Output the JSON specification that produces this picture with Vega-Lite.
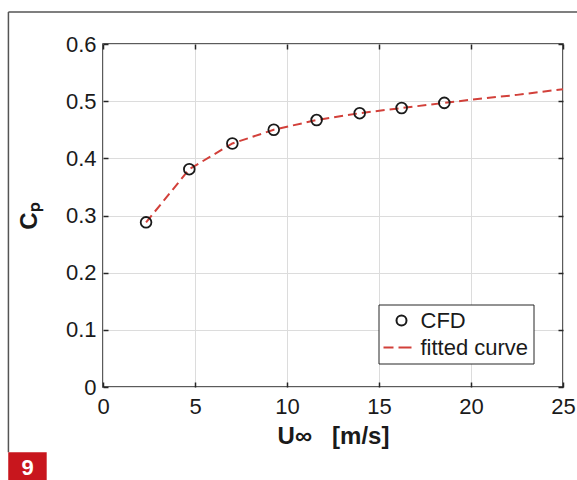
{
  "$schema": "https://vega.github.io/schema/vega-lite/v6.json",
  "width": 460,
  "height": 343,
  "autosize": {"type": "none"},
  "padding": {"left": 103, "top": 44, "right": 14, "bottom": 93},
  "background": "white",
  "config": {
    "font": "Liberation Sans",
    "view": {"stroke": "#262626", "strokeWidth": 1.5},
    "axis": {
      "labelFont": "Liberation Sans",
      "titleFont": "Liberation Sans",
      "labelColor": "#1a1a1a",
      "titleColor": "#1a1a1a",
      "domainColor": "#262626",
      "tickColor": "#262626",
      "gridColor": "#dcdcdc",
      "gridWidth": 1,
      "gridOpacity": 1
    }
  },
  "datasets": {
    "cfd": [
      {"u": 2.34, "cp": 0.288, "series": "CFD"},
      {"u": 4.69, "cp": 0.381, "series": "CFD"},
      {"u": 7.03, "cp": 0.426, "series": "CFD"},
      {"u": 9.28, "cp": 0.450, "series": "CFD"},
      {"u": 11.61, "cp": 0.467, "series": "CFD"},
      {"u": 13.95, "cp": 0.479, "series": "CFD"},
      {"u": 16.23, "cp": 0.488, "series": "CFD"},
      {"u": 18.55, "cp": 0.497, "series": "CFD"}
    ],
    "fit": [
      {"u": 2.34, "cp": 0.288},
      {"u": 4.69, "cp": 0.381},
      {"u": 7.03, "cp": 0.426},
      {"u": 9.28, "cp": 0.450},
      {"u": 11.61, "cp": 0.467},
      {"u": 13.95, "cp": 0.479},
      {"u": 16.23, "cp": 0.488},
      {"u": 18.55, "cp": 0.497},
      {"u": 20, "cp": 0.5025},
      {"u": 22.5, "cp": 0.511},
      {"u": 25, "cp": 0.521}
    ],
    "frame": [
      {"u": -5.14, "u2": 25.8, "cp": 0.656, "cp2": 0.656},
      {"u": -5.14, "u2": -5.14, "cp": 0.656, "cp2": -0.114}
    ],
    "badge": [
      {"u": -5.15, "u2": -3.06, "cp": -0.114, "cp2": -0.165, "label": "9", "um": -4.1, "cpm": -0.141}
    ]
  },
  "resolve": {"axis": {"x": "independent", "y": "independent"}},
  "layer": [
    {
      "data": {"name": "frame"},
      "mark": {"type": "rule", "color": "#555555", "strokeWidth": 1.5},
      "encoding": {
        "x": {"field": "u", "type": "quantitative", "scale": {"domain": [0, 25], "nice": false}, "axis": null},
        "x2": {"field": "u2"},
        "y": {"field": "cp", "type": "quantitative", "scale": {"domain": [0, 0.6], "nice": false}, "axis": null},
        "y2": {"field": "cp2"}
      }
    },
    {
      "data": {"name": "badge"},
      "mark": {"type": "rect", "color": "#c8161d"},
      "encoding": {
        "x": {"field": "u", "type": "quantitative", "scale": {"domain": [0, 25], "nice": false}, "axis": null},
        "x2": {"field": "u2"},
        "y": {"field": "cp", "type": "quantitative", "scale": {"domain": [0, 0.6], "nice": false}, "axis": null},
        "y2": {"field": "cp2"}
      }
    },
    {
      "data": {"name": "badge"},
      "mark": {"type": "text", "color": "white", "fontSize": 22, "fontWeight": "bold", "font": "Liberation Sans", "align": "center", "baseline": "middle"},
      "encoding": {
        "x": {"field": "um", "type": "quantitative", "scale": {"domain": [0, 25], "nice": false}, "axis": null},
        "y": {"field": "cpm", "type": "quantitative", "scale": {"domain": [0, 0.6], "nice": false}, "axis": null},
        "text": {"field": "label"}
      }
    },
    {
      "data": {"name": "fit"},
      "mark": {"type": "line", "color": "#d2403a", "strokeWidth": 2, "strokeDash": [9, 5]},
      "encoding": {
        "x": {"field": "u", "type": "quantitative", "scale": {"domain": [0, 25], "nice": false},
          "axis": {"orient": "top", "values": [0, 5, 10, 15, 20, 25], "labels": false, "domain": false, "grid": false, "ticks": true, "tickSize": -5, "tickWidth": 1.5, "title": null}},
        "y": {"field": "cp", "type": "quantitative", "scale": {"domain": [0, 0.6], "nice": false},
          "axis": {"orient": "right", "values": [0, 0.1, 0.2, 0.3, 0.4, 0.5, 0.6], "labels": false, "domain": false, "grid": false, "ticks": true, "tickSize": -5, "tickWidth": 1.5, "title": null}}
      }
    },
    {
      "data": {"name": "cfd"},
      "mark": {"type": "point", "filled": false, "size": 115, "strokeWidth": 1.8, "opacity": 1},
      "encoding": {
        "x": {"field": "u", "type": "quantitative", "scale": {"domain": [0, 25], "nice": false},
          "axis": {"orient": "bottom", "values": [0, 5, 10, 15, 20, 25], "labelFlush": false, "grid": true, "domain": false, "ticks": true, "tickSize": -5, "tickWidth": 1.5,
            "labelFontSize": 22, "labelPadding": 14, "title": "U∞\u00a0\u00a0\u00a0[m/s]", "titleFontSize": 24, "titleFontWeight": "bold", "titlePadding": 7}},
        "y": {"field": "cp", "type": "quantitative", "scale": {"domain": [0, 0.6], "nice": false},
          "axis": {"orient": "left", "values": [0, 0.1, 0.2, 0.3, 0.4, 0.5, 0.6], "format": ".1~f", "labelFlush": false, "grid": true, "domain": false, "ticks": true, "tickSize": -5, "tickWidth": 1.5,
            "labelFontSize": 22, "labelPadding": 12, "title": "Cₚ", "titleFontSize": 24, "titleFontWeight": "bold", "titlePadding": 24}},
        "color": {"field": "series", "type": "nominal",
          "scale": {"domain": ["CFD", "fitted curve"], "range": ["#1a1a1a", "#d2403a"]},
          "legend": {"orient": "none", "legendX": 275.5, "legendY": 260.5, "title": null, "strokeColor": "#262626", "fillColor": "white", "padding": 5,
            "labelFontSize": 22, "labelFont": "Liberation Sans", "labelColor": "#1a1a1a", "rowPadding": 5, "symbolOffset": 7, "labelOffset": 8,
            "symbolSize": 100, "symbolStrokeWidth": 2, "symbolFillColor": "transparent"}},
        "shape": {"field": "series", "type": "nominal",
          "scale": {"domain": ["CFD", "fitted curve"], "range": ["circle", "M-3.6,0H-1.6M-0.6,0H2.0"]}}
      }
    }
  ]
}
